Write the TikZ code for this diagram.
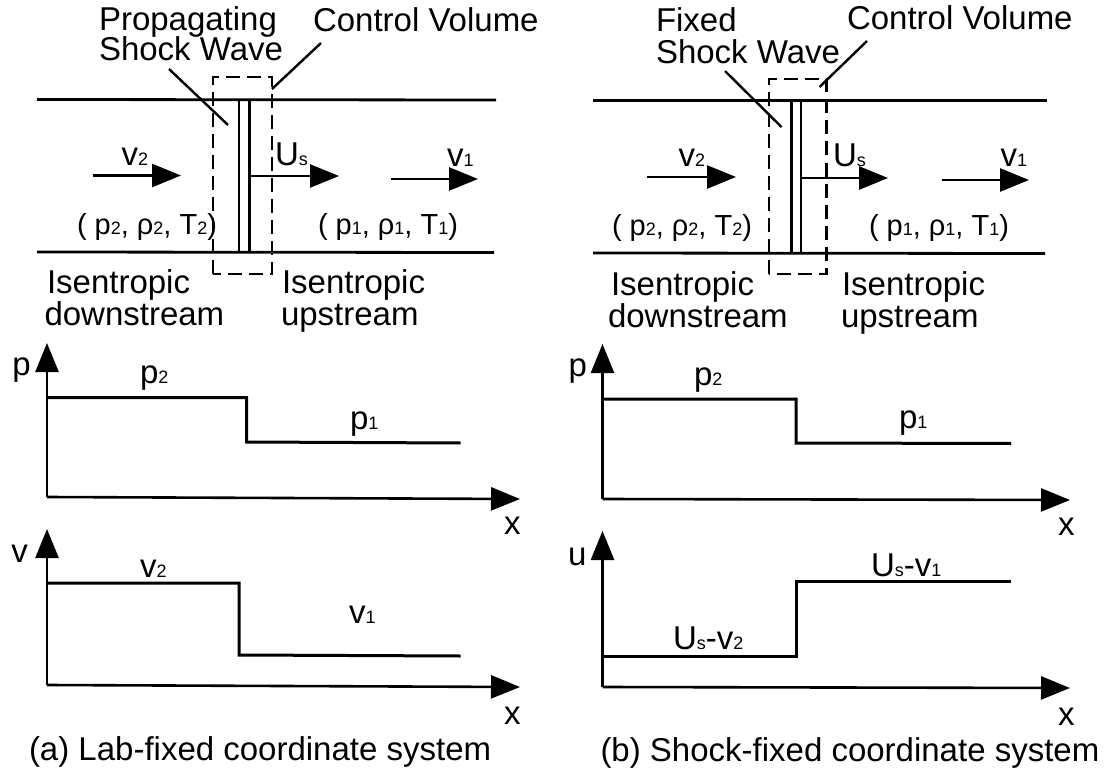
\documentclass[tikz,border=0pt]{standalone}
\usepackage{fontspec}
\setmainfont{Liberation Sans}
\usetikzlibrary{arrows.meta}
\newcommand{\lowidx}[1]{{\fontsize{18}{18}\selectfont #1}}
\tikzset{
  lbl/.style={anchor=base west,inner sep=0pt,outer sep=0pt,font=\fontsize{33}{33}\selectfont},
  sml/.style={anchor=base west,inner sep=0pt,outer sep=0pt,font=\fontsize{29}{29}\selectfont},
  wall/.style={line width=2.8pt},
  thinline/.style={line width=2.4pt},
  cv/.style={line width=2.2pt,dash pattern=on 14pt off 7pt},
  lead/.style={line width=2.4pt},
  arr/.style={line width=2.6pt,-{Triangle[length=29pt,width=23pt]}},
  curve/.style={line width=3pt}
}
\begin{document}
\begin{tikzpicture}[x=1pt,y=-1pt]
\useasboundingbox (0,0) rectangle (1111,773);
% left top
\draw[wall] (37,99.5) -- (496,100);
\draw[wall] (37,252) -- (494,252.5);
\draw[thinline] (239,100) -- (239,252);
\draw[thinline] (249.5,100) -- (249.5,252);
\draw[cv] (213,274) -- (213,77) -- (272,77) -- (272,274) -- cycle;
\draw[lead] (169,69) -- (228,125);
\draw[lead] (321,43) -- (272,89);
\draw[arr] (93,175.5) -- (181,175.5);
\draw[arr] (249,176) -- (339,176);
\draw[arr] (391,179) -- (478,179);
\node[lbl] (propa) at (99,31) {Propagating};
\node[lbl] (shocka) at (99,61) {Shock Wave};
\node[lbl] (cva) at (313,32) {Control Volume};
\node[lbl] (v2a) at (121.5,165) {v\lowidx{2}};
\node[lbl] (usa) at (275,165) {U\lowidx{s}};
\node[lbl] (v1a) at (447,166) {v\lowidx{1}};
\node[sml] (st2a) at (77,234) {( p\lowidx{2}, ρ\lowidx{2}, T\lowidx{2})};
\node[sml] (st1a) at (318,234) {( p\lowidx{1}, ρ\lowidx{1}, T\lowidx{1})};
\node[lbl] (isa) at (47,293) {Isentropic};
\node[lbl] (dna) at (44.5,325) {downstream};
\node[lbl] (isb) at (282,293) {Isentropic};
\node[lbl] (upa) at (281,325) {upstream};
% left plots
\draw[arr] (47,497) -- (47,343);
\draw[arr] (47,497) -- (520,499);
\draw[curve] (47,397.5) -- (246.5,397.5) -- (246.5,442) -- (460.5,443);
\draw[arr] (47,685) -- (47,529);
\draw[arr] (47,685) -- (520,687);
\draw[curve] (47,583) -- (239,583) -- (239,655) -- (460.5,656);
\node[lbl] (pa) at (12.5,375) {p};
\node[lbl] (p2a) at (140,383) {p\lowidx{2}};
\node[lbl] (p1a) at (350,429) {p\lowidx{1}};
\node[lbl] (xa) at (504,534) {x};
\node[lbl] (va) at (11.5,562) {v};
\node[lbl] (v2pa) at (140,577) {v\lowidx{2}};
\node[lbl] (v1pa) at (349,623) {v\lowidx{1}};
\node[lbl] (xb) at (504,724) {x};
\node[lbl] (capa) at (29,760) {(a) Lab-fixed coordinate system};
% right top
\draw[wall] (593,100.5) -- (1047,100.5);
\draw[wall] (593,253) -- (1045,253.5);
\draw[thinline] (791.5,101) -- (791.5,253);
\draw[thinline] (801,101) -- (801,253);
\draw[cv] (769,274) -- (769,79) -- (826.5,79) -- (826.5,274) -- cycle;
\draw[lead] (725,71) -- (781.5,127);
\draw[lead] (867,41) -- (819.5,87);
\draw[arr] (647,177) -- (736,177);
\draw[arr] (801,178) -- (888,178);
\draw[arr] (942,180) -- (1029,180);
\node[lbl] (fixb) at (656,32) {Fixed};
\node[lbl] (shockb) at (656,64) {Shock Wave};
\node[lbl] (cvb) at (847,30) {Control Volume};
\node[lbl] (v2b) at (678.5,167) {v\lowidx{2}};
\node[lbl] (usb) at (833,167) {U\lowidx{s}};
\node[lbl] (v1b) at (1000.5,167) {v\lowidx{1}};
\node[sml] (st2b) at (612,235) {( p\lowidx{2}, ρ\lowidx{2}, T\lowidx{2})};
\node[sml] (st1b) at (869,235) {( p\lowidx{1}, ρ\lowidx{1}, T\lowidx{1})};
\node[lbl] (isc) at (611,295) {Isentropic};
\node[lbl] (dnb) at (608,327) {downstream};
\node[lbl] (isd) at (842,295) {Isentropic};
\node[lbl] (upb) at (841,327) {upstream};
% right plots
\draw[arr] (602.5,499) -- (602.5,344);
\draw[arr] (602.5,499) -- (1070,500);
\draw[curve] (602.5,399) -- (796,399) -- (796,443) -- (1011,443.5);
\draw[arr] (602.5,687) -- (602.5,531);
\draw[arr] (602.5,687) -- (1070,688);
\draw[curve] (602.5,656) -- (796,656) -- (796,581) -- (1011,581);
\node[lbl] (pb) at (568.5,376) {p};
\node[lbl] (p2b) at (694,385) {p\lowidx{2}};
\node[lbl] (p1b) at (899,428) {p\lowidx{1}};
\node[lbl] (xc) at (1058,535) {x};
\node[lbl] (ub) at (568,565) {u};
\node[lbl] (usv1) at (871,576) {U\lowidx{s}-v\lowidx{1}};
\node[lbl] (usv2) at (673,649) {U\lowidx{s}-v\lowidx{2}};
\node[lbl] (xd) at (1058,725) {x};
\node[lbl] (capb) at (600.5,761) {(b) Shock-fixed coordinate system};
\end{tikzpicture}
\end{document}
